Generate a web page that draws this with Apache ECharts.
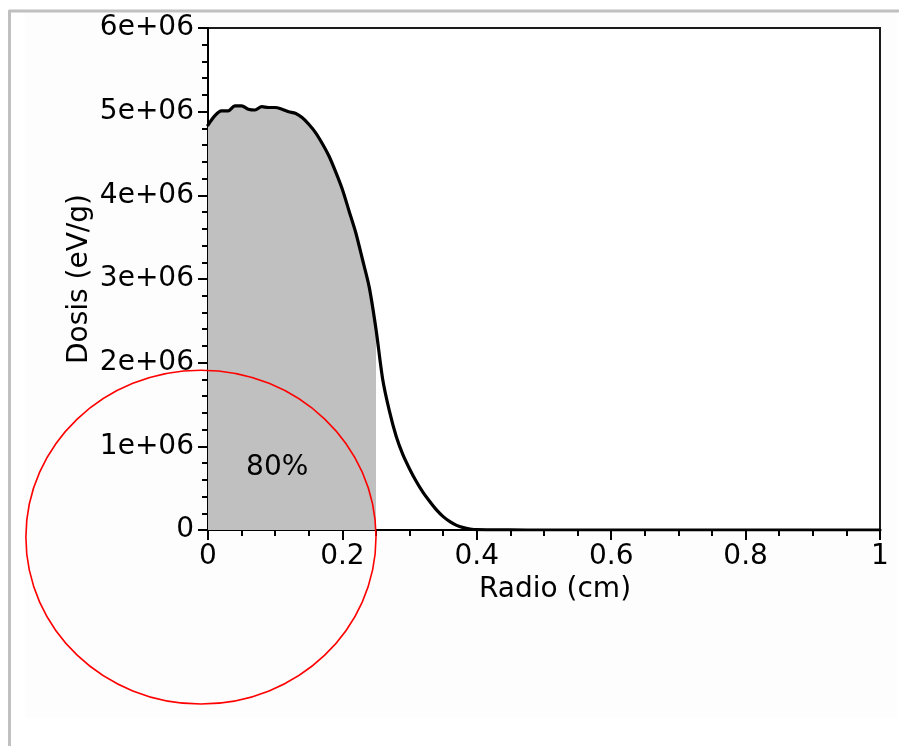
<!DOCTYPE html>
<html>
<head>
<meta charset="utf-8">
<style>
  html, body { margin: 0; padding: 0; background: #ffffff; }
  #chart { width: 899px; height: 746px; }
</style>
<script src="https://cdn.jsdelivr.net/npm/echarts@6/dist/echarts.min.js"></script>
</head>
<body>
<div id="chart"></div>
<script>
// Radial dose profile: radius (cm) vs dose (eV/g)
const radius = [
  0.00, 0.01, 0.02, 0.03, 0.04, 0.05, 0.06, 0.07, 0.08, 0.09,
  0.10, 0.11, 0.12, 0.13, 0.14, 0.15, 0.16, 0.17, 0.18, 0.19,
  0.20, 0.21, 0.22, 0.23, 0.24, 0.25, 0.26, 0.27, 0.28, 0.29,
  0.30, 0.31, 0.32, 0.33, 0.34, 0.35, 0.36, 0.37, 0.38, 0.39,
  0.40, 0.45, 0.50, 0.60, 0.70, 0.80, 0.90, 1.00
];
const dose = [
  4.84e6, 4.95e6, 5.01e6, 5.01e6, 5.07e6, 5.07e6, 5.03e6, 5.02e6, 5.06e6, 5.05e6,
  5.05e6, 5.03e6, 5.00e6, 4.98e6, 4.93e6, 4.85e6, 4.75e6, 4.62e6, 4.47e6, 4.28e6,
  4.07e6, 3.81e6, 3.55e6, 3.23e6, 2.90e6, 2.40e6, 1.80e6, 1.42e6, 1.12e6, 0.90e6,
  0.73e6, 0.58e6, 0.45e6, 0.34e6, 0.24e6, 0.16e6, 0.10e6, 0.055e6, 0.028e6, 0.012e6,
  0.004e6, 0.001e6, 0, 0, 0, 0, 0, 0
];
// Shaded region: radius up to this cut holds 80% of the dose
const cutRadius = 0.25;
const shadeLabel = '80%';
const shadeLabelAt = [0.103, 0.75e6];
// Marker ellipse bounds in data units: [xMin, xMax, yMin, yMax]
const ringBounds = [-0.271, 0.25, -2.08e6, 1.91e6];

const xTicks = [0, 0.2, 0.4, 0.6, 0.8, 1];
const yTicks = [0, 1e6, 2e6, 3e6, 4e6, 5e6, 6e6];

const curve = radius.map((r, i) => [r, dose[i]]);
const shaded = curve.filter(p => p[0] <= cutRadius);

const FONT = 'DejaVu Sans';
const INK = '#000000';

const chart = echarts.init(document.getElementById('chart'), null, { renderer: 'canvas' });

chart.setOption({
  animation: false,
  backgroundColor: '#ffffff',
  grid: {
    left: 208, right: 19, top: 28, bottom: 216,
    show: true, borderColor: '#1a1a1a', borderWidth: 2, backgroundColor: '#ffffff'
  },
  xAxis: {
    type: 'value',
    min: xTicks[0], max: xTicks[xTicks.length - 1], interval: 0.2,
    name: 'Radio (cm)', nameLocation: 'middle', nameGap: 46, nameMoveOverlap: false,
    nameTextStyle: { fontFamily: FONT, fontSize: 28, color: INK, padding: [0, 0, 0, 22] },
    axisLine: { lineStyle: { color: '#000', width: 2 } },
    axisTick: { length: 10, lineStyle: { color: '#000', width: 2 } },
    minorTick: { show: true, splitNumber: 4, length: 6, lineStyle: { color: '#000', width: 2 } },
    splitLine: { show: false },
    axisLabel: {
      fontFamily: FONT, fontSize: 28, color: INK, margin: 13,
      formatter: v => String(+v.toFixed(1))
    }
  },
  yAxis: {
    type: 'value',
    min: yTicks[0], max: yTicks[yTicks.length - 1], interval: 1e6,
    name: 'Dosis (eV/g)', nameLocation: 'middle', nameGap: 114, nameMoveOverlap: false,
    nameTextStyle: { fontFamily: FONT, fontSize: 28, color: INK },
    axisLine: { show: true, lineStyle: { color: '#000', width: 2 } },
    axisTick: { show: true, length: 10, lineStyle: { color: '#000', width: 2 } },
    minorTick: { show: true, splitNumber: 5, length: 6, lineStyle: { color: '#000', width: 2 } },
    splitLine: { show: false },
    axisLabel: {
      fontFamily: FONT, fontSize: 28, color: INK, margin: 14,
      formatter: v => v === 0 ? '0' : (v / 1e6) + 'e+06'
    }
  },
  series: [
    {
      name: 'shade',
      type: 'line',
      data: shaded,
      symbol: 'none',
      smooth: 0.3,
      lineStyle: { width: 0, opacity: 0 },
      areaStyle: { color: '#c0c0c0', opacity: 1 },
      z: 2
    },
    {
      name: 'dose',
      type: 'line',
      data: curve,
      symbol: 'none',
      smooth: 0.3,
      lineStyle: { color: '#000', width: 3.2, join: 'round', cap: 'round' },
      z: 4
    }
  ]
});

// Annotations placed through the axes' own scales
function px(pt) { return chart.convertToPixel({ gridIndex: 0 }, pt); }
const tl = px([ringBounds[0], ringBounds[3]]);
const br = px([ringBounds[1], ringBounds[2]]);
const lp = px(shadeLabelAt);

chart.setOption({
  graphic: [
    // outer page frame
    { type: 'rect', z: -10, silent: true,
      shape: { x: 25, y: 12, width: 872, height: 706 },
      style: { fill: '#fdfdfd' } },
    { type: 'line', z: -9, silent: true,
      shape: { x1: 9, y1: 11, x2: 899, y2: 11 },
      style: { stroke: '#c0c0c0', lineWidth: 3 } },
    { type: 'line', z: -9, silent: true,
      shape: { x1: 9.5, y1: 10, x2: 9.5, y2: 746 },
      style: { stroke: '#c0c0c0', lineWidth: 3 } },
    // red marker ellipse
    { type: 'ellipse', z: 100, silent: true,
      shape: { cx: (tl[0] + br[0]) / 2, cy: (tl[1] + br[1]) / 2,
               rx: (br[0] - tl[0]) / 2, ry: (br[1] - tl[1]) / 2 },
      style: { fill: null, stroke: '#ff0000', lineWidth: 1.6 } },
    // shaded fraction label
    { type: 'text', z: 100, silent: true,
      x: lp[0], y: lp[1],
      style: { text: shadeLabel, font: '28px "DejaVu Sans"', fill: INK,
               align: 'center', verticalAlign: 'middle' } }
  ]
});
</script>
</body>
</html>
